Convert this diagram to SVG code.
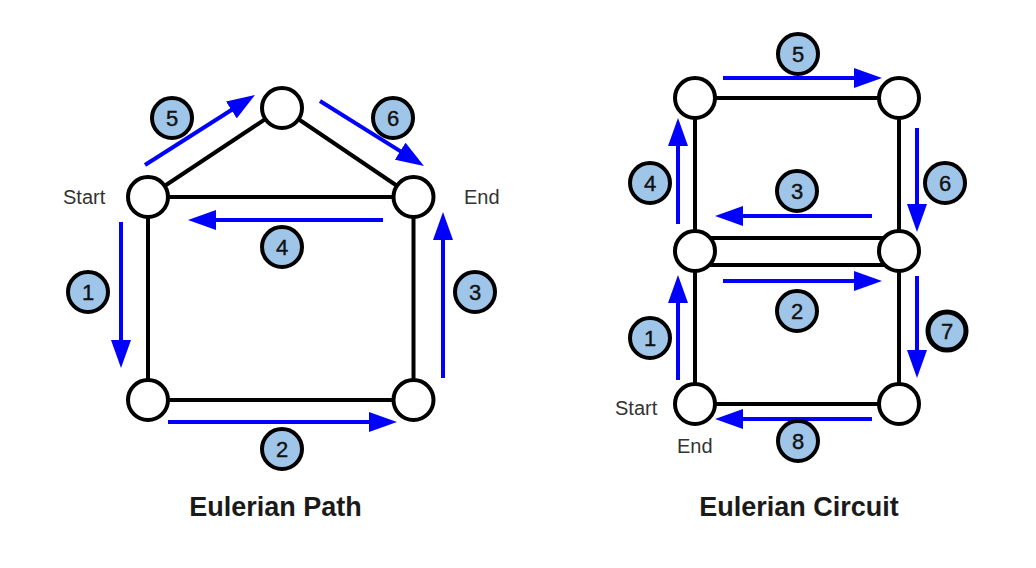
<svg xmlns="http://www.w3.org/2000/svg" width="1036" height="568" viewBox="0 0 1036 568">
<style>
.edge{stroke:#000;stroke-width:4;fill:none}
.node{fill:#fff;stroke:#000;stroke-width:4}
.arrow{stroke:#0000ff;stroke-width:4;fill:none;marker-end:url(#ah)}
.badge circle{fill:#9fc5e8;stroke:#000;stroke-width:4}
.badge text{font-family:"Liberation Sans",Arial,sans-serif;font-size:22px;fill:#111;stroke:#111;stroke-width:0.4;text-anchor:middle}
.lbl{font-family:"Liberation Sans",Arial,sans-serif;font-size:20px;fill:#333}
.title{font-family:"Liberation Sans",Arial,sans-serif;font-size:27px;font-weight:bold;fill:#1a1a1a;text-anchor:middle}
</style>
<defs>
<marker id="ah" markerUnits="userSpaceOnUse" markerWidth="28" markerHeight="20" refX="8" refY="10" orient="auto" viewBox="0 0 28 20">
<path d="M0,0 L28,10 L0,20 z" fill="#0000ff"/>
</marker>
</defs>
<rect width="1036" height="568" fill="#fff"/>
<g id="connectors">
<g id="edges">
<line class="edge" x1="148" y1="197" x2="282" y2="108"/>
<line class="edge" x1="282" y1="108" x2="413.5" y2="197"/>
<line class="edge" x1="148" y1="197" x2="413.5" y2="197"/>
<line class="edge" x1="148" y1="197" x2="148" y2="400"/>
<line class="edge" x1="148" y1="400" x2="413.5" y2="400"/>
<line class="edge" x1="413.5" y1="197" x2="413.5" y2="400"/>
<line class="edge" x1="695" y1="98" x2="899" y2="98"/>
<line class="edge" x1="695" y1="98" x2="695" y2="404"/>
<line class="edge" x1="899" y1="98" x2="899" y2="404"/>
<line class="edge" x1="695" y1="238" x2="899" y2="238"/>
<line class="edge" x1="695" y1="265" x2="899" y2="265"/>
<line class="edge" x1="695" y1="404" x2="899" y2="404"/>
</g>
<g id="arrows">
<line class="arrow" x1="121" y1="222" x2="121" y2="348"/>
<line class="arrow" x1="168" y1="422" x2="377" y2="422"/>
<line class="arrow" x1="443" y1="378" x2="443" y2="232"/>
<line class="arrow" x1="383" y1="220" x2="208" y2="220"/>
<line class="arrow" x1="145" y1="165" x2="238.1" y2="105.7"/>
<line class="arrow" x1="320" y1="101" x2="407" y2="155.4"/>
<line class="arrow" x1="723" y1="78" x2="862" y2="78"/>
<line class="arrow" x1="678" y1="224" x2="678" y2="138"/>
<line class="arrow" x1="917" y1="128" x2="917" y2="212"/>
<line class="arrow" x1="872" y1="216" x2="735" y2="216"/>
<line class="arrow" x1="723" y1="281" x2="862" y2="281"/>
<line class="arrow" x1="678" y1="380" x2="678" y2="295"/>
<line class="arrow" x1="917" y1="276" x2="917" y2="358"/>
<line class="arrow" x1="872" y1="419" x2="735" y2="419"/>
</g>
</g>
<g id="path-start"><circle class="node" cx="148" cy="197" r="20"/></g>
<g id="path-top"><circle class="node" cx="282" cy="108" r="20"/></g>
<g id="path-end"><circle class="node" cx="413.5" cy="197" r="20"/></g>
<g id="path-bl"><circle class="node" cx="148" cy="400" r="20"/></g>
<g id="path-br"><circle class="node" cx="413.5" cy="400" r="20"/></g>
<g id="circ-tl"><circle class="node" cx="695" cy="98" r="20"/></g>
<g id="circ-tr"><circle class="node" cx="899" cy="98" r="20"/></g>
<g id="circ-ml"><circle class="node" cx="695" cy="251" r="20"/></g>
<g id="circ-mr"><circle class="node" cx="899" cy="251" r="20"/></g>
<g id="circ-bl"><circle class="node" cx="695" cy="404" r="20"/></g>
<g id="circ-br"><circle class="node" cx="899" cy="404" r="20"/></g>
<g id="badges-path">
<g class="badge" id="pb1"><circle cx="88" cy="292" r="20"/><text x="88" y="300">1</text></g>
<g class="badge" id="pb2"><circle cx="282" cy="449" r="20"/><text x="282" y="457">2</text></g>
<g class="badge" id="pb3"><circle cx="475" cy="292" r="20"/><text x="475" y="300">3</text></g>
<g class="badge" id="pb4"><circle cx="282" cy="247" r="20"/><text x="282" y="255">4</text></g>
<g class="badge" id="pb5"><circle cx="172" cy="118" r="20"/><text x="172" y="126">5</text></g>
<g class="badge" id="pb6"><circle cx="393" cy="118" r="20"/><text x="393" y="126">6</text></g>
</g>
<g id="badges-circuit">
<g class="badge" id="cb1"><circle cx="650" cy="338" r="20"/><text x="650" y="346">1</text></g>
<g class="badge" id="cb2"><circle cx="797" cy="311" r="20"/><text x="797" y="319">2</text></g>
<g class="badge" id="cb3"><circle cx="797" cy="191" r="20"/><text x="797" y="199">3</text></g>
<g class="badge" id="cb4"><circle cx="650" cy="183" r="20"/><text x="650" y="191">4</text></g>
<g class="badge" id="cb5"><circle cx="798" cy="54" r="20"/><text x="798" y="62">5</text></g>
<g class="badge" id="cb6"><circle cx="945" cy="183" r="20"/><text x="945" y="191">6</text></g>
<g class="badge" id="cb7"><circle cx="947" cy="331" r="19" style="stroke-width:5"/><text x="947" y="339">7</text></g>
<g class="badge" id="cb8"><circle cx="798" cy="441" r="20"/><text x="798" y="449">8</text></g>
</g>
<g id="labels">
<text class="lbl" x="63" y="204">Start</text>
<text class="lbl" x="464" y="204">End</text>
<text class="lbl" x="615" y="415">Start</text>
<text class="lbl" x="677" y="453">End</text>
<text class="title" x="275.5" y="516">Eulerian Path</text>
<text class="title" x="799" y="516">Eulerian Circuit</text>
</g>
</svg>
